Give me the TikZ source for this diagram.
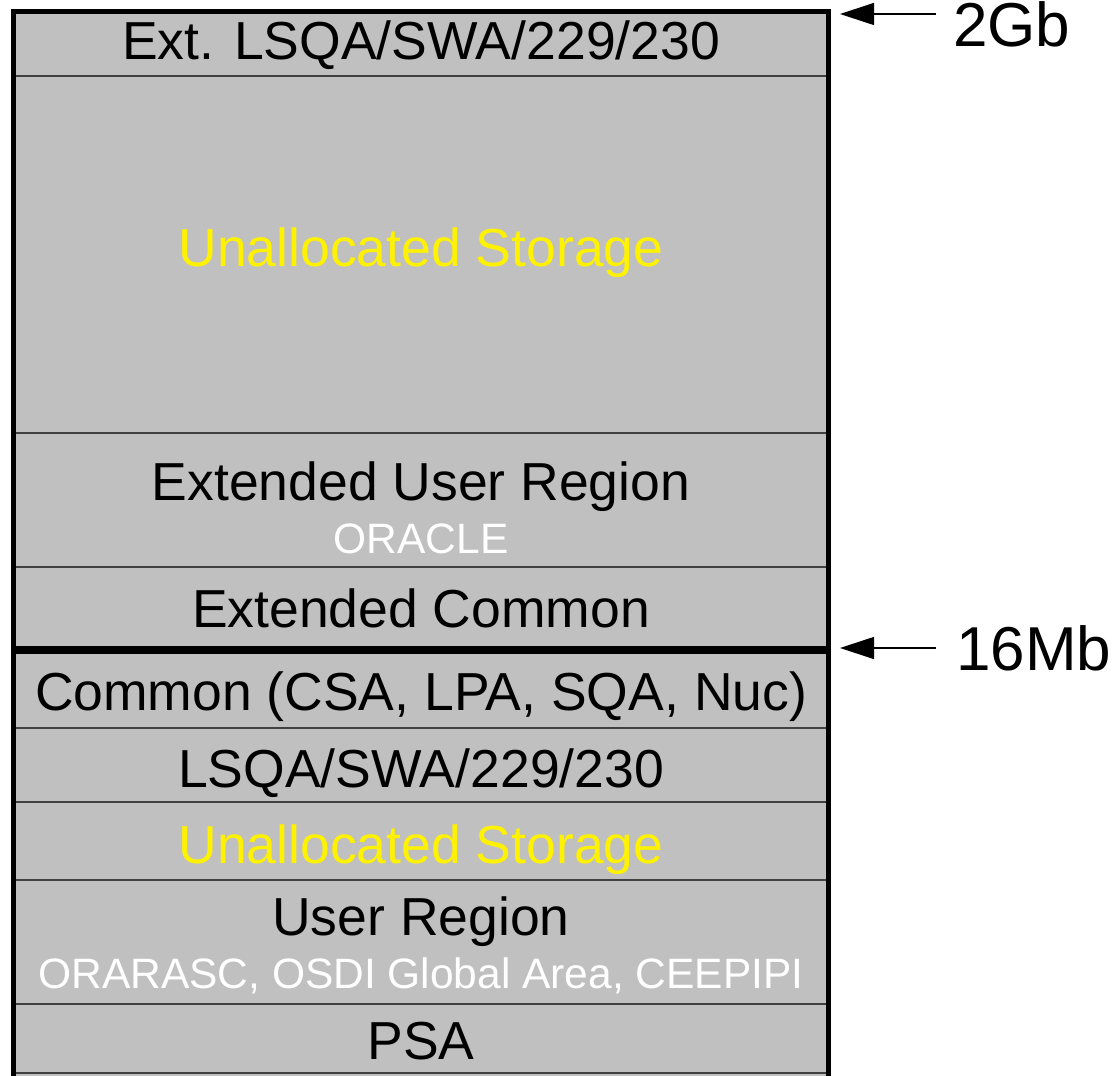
\documentclass[tikz,border=0pt]{standalone}
\usepackage{fontspec}
\setmainfont{Liberation Sans}
\usetikzlibrary{arrows.meta}
\definecolor{boxgray}{RGB}{192,192,192}
\definecolor{divgray}{RGB}{64,64,64}
\begin{document}
\begin{tikzpicture}[x=1pt,y=-1pt,
  main/.style={anchor=base,inner sep=0,font=\fontsize{53.5}{53.5}\selectfont,text=black},
  yel/.style={main,text=yellow},
  small/.style={anchor=base,inner sep=0,font=\fontsize{42.5}{42.5}\selectfont,text=white},
  lbl/.style={anchor=base west,inner sep=0,font=\fontsize{62}{62}\selectfont},
  divider/.style={draw=divgray,line width=1.5pt},
  ptr/.style={line width=1.2pt,-{Triangle[length=34pt,width=22pt]}}]
\useasboundingbox (0,0) rectangle (1115,1075);
\fill[boxgray] (13,12) rectangle (828,1085);
\foreach \y in {76,433,567,728,802,880,1004,1073}
  \draw[divider] (13,\y) -- (828,\y);
\draw[line width=8pt] (13,650) -- (828,650);
\draw[line width=5pt] (13,1090) -- (13,12) -- (828,12) -- (828,1090);
\node[main] (t1) at (421,60) {Ext. LSQA/SWA/229/230};
\node[yel] (t2) at (421,266) {Unallocated Storage};
\node[main] (t3) at (421,500) {Extended User Region};
\node[small] (t3s) at (421,553) {ORACLE};
\node[main] (t4) at (421,627) {Extended Common};
\node[main] (t5) at (421,710) {Common (CSA, LPA, SQA, Nuc)};
\node[main] (t6) at (421,787) {LSQA/SWA/229/230};
\node[yel] (t7) at (421,863) {Unallocated Storage};
\node[main] (t8) at (421,935) {User Region};
\node[small] (t8s) at (421,988) {ORARASC, OSDI Global Area, CEEPIPI};
\node[main] (t9) at (421,1059) {PSA};
\node[lbl] (g2) at (953,47) {2Gb};
\node[lbl] (m16) at (956,670) {16Mb};
\coordinate (a1s) at (936,14);
\coordinate (a1e) at (840,14);
\coordinate (a2s) at (936,648);
\coordinate (a2e) at (840,648);
\draw[ptr] (a1s) -- (a1e);
\draw[ptr] (a2s) -- (a2e);
\end{tikzpicture}
\end{document}
